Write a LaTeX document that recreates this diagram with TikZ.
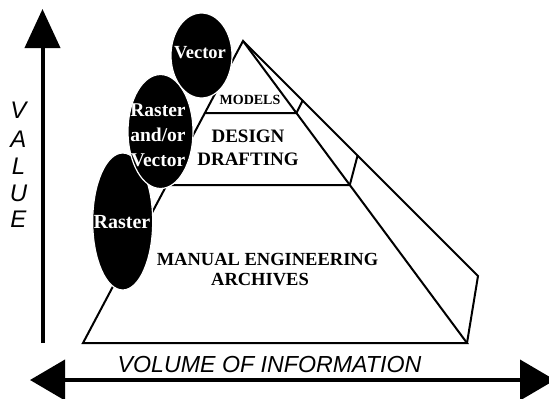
\documentclass[tikz,border=0pt]{standalone}
\usepackage{fontspec}
\setmainfont{Liberation Serif}
\newfontfamily\axisfont{Liberation Sans}
\usetikzlibrary{arrows.meta,shapes.geometric}
\begin{document}
\begin{tikzpicture}[x=1pt,y=-1pt,
  edge/.style={line width=2pt, line join=miter},
  axis/.style={line width=4pt},
  blob/.style={ellipse, fill=black, draw=white, line width=1.2pt, inner sep=0pt},
  lbl/.style={font=\bfseries, anchor=base, inner sep=0pt},
  wlbl/.style={lbl, text=white},
  axlbl/.style={anchor=base, inner sep=0pt}]
\useasboundingbox (0,0) rectangle (549,399);
% pyramid
\coordinate (apex) at (243,41);
\coordinate (bl) at (83,343);
\coordinate (br) at (467,343);
\coordinate (bk) at (478,276);
\coordinate (mL) at (205,113);
\coordinate (mR) at (296.4,113);
\coordinate (mB) at (303,100);
\coordinate (dL) at (166.7,185);
\coordinate (dR) at (349.8,185);
\coordinate (dB) at (357.7,155);
\draw[edge] (apex) -- (bl) -- (br) -- cycle;
\draw[edge] (apex) -- (bk) -- (br);
\draw[edge] (mL) -- (mR) -- (mB);
\draw[edge] (dL) -- (dR) -- (dB);
% level labels
\node[lbl, font=\bfseries\fontsize{14}{14}\selectfont] (models) at (250,104) {MODELS};
\node[lbl, font=\bfseries\fontsize{19}{19}\selectfont] (design) at (248,142) {DESIGN};
\node[lbl, font=\bfseries\fontsize{19}{19}\selectfont] (drafting) at (248,165) {DRAFTING};
\node[lbl, font=\bfseries\fontsize{18.5}{18.5}\selectfont] (manual) at (267.5,265) {MANUAL ENGINEERING};
\node[lbl, font=\bfseries\fontsize{18.5}{18.5}\selectfont] (archives) at (260,285) {ARCHIVES};
% ellipses
\node[blob, minimum width=60pt, minimum height=137pt] (eras) at (122.7,221.5) {};
\node[blob, minimum width=65pt, minimum height=114pt] (emid) at (160.5,131.5) {};
\node[blob, minimum width=61pt, minimum height=85pt] (evec) at (201.5,55.5) {};
\node[wlbl, font=\bfseries\fontsize{18.5}{18.5}\selectfont] (tvec) at (200,58) {Vector};
\node[wlbl, font=\bfseries\fontsize{19.5}{19.5}\selectfont] (tm1) at (158,116) {Raster};
\node[wlbl, font=\bfseries\fontsize{19.5}{19.5}\selectfont] (tm2) at (158,141) {and/or};
\node[wlbl, font=\bfseries\fontsize{19.5}{19.5}\selectfont] (tm3) at (158,166) {Vector};
\node[wlbl, font=\bfseries\fontsize{20}{20}\selectfont] (tras) at (122,228) {Raster};
% axes
\coordinate (vb) at (42.5,343);
\coordinate (vt) at (42.5,9);
\draw[axis, -{Triangle[length=39pt,width=35pt]}] (vb) -- (vt);
\coordinate (hl) at (30,380);
\coordinate (hr) at (555,380);
\draw[axis, {Triangle[length=35pt,width=40pt]}-{Triangle[length=35pt,width=40pt]}] (hl) -- (hr);
% axis labels
\node[axlbl, font=\axisfont\itshape\fontsize{24}{24}\selectfont] (v1) at (18.5,118) {V};
\node[axlbl, font=\axisfont\itshape\fontsize{24}{24}\selectfont] (v2) at (18.5,147) {A};
\node[axlbl, font=\axisfont\itshape\fontsize{24}{24}\selectfont] (v3) at (18.5,174) {L};
\node[axlbl, font=\axisfont\itshape\fontsize{24}{24}\selectfont] (v4) at (18.5,201) {U};
\node[axlbl, font=\axisfont\itshape\fontsize{24}{24}\selectfont] (v5) at (18.5,227) {E};
\node[axlbl, font=\axisfont\itshape\fontsize{23.2}{23.2}\selectfont] (vol) at (269.5,372) {VOLUME OF INFORMATION};
\end{tikzpicture}
\end{document}
